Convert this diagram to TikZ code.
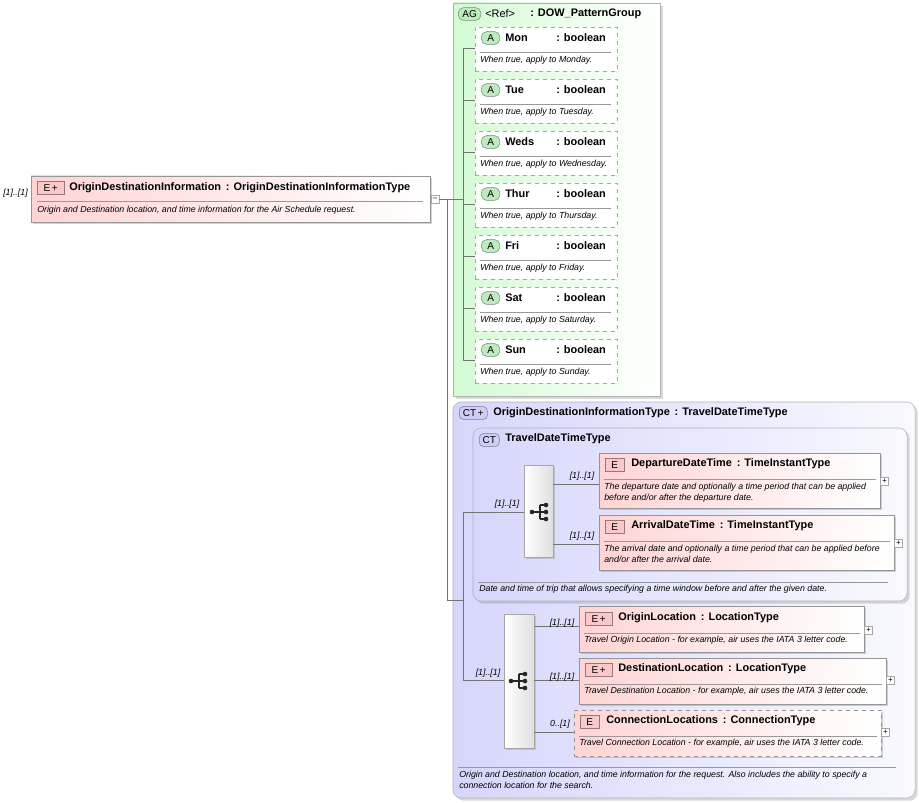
\documentclass[tikz,border=0pt]{standalone}
\usepackage{fontspec}
\setmainfont{Liberation Sans}
\usetikzlibrary{fit,shadows}
\definecolor{elpink}{RGB}{255,212,212}
\definecolor{elbord}{RGB}{150,150,150}
\definecolor{agreen}{RGB}{212,250,212}
\definecolor{ctlav}{RGB}{214,214,252}
\definecolor{badgeE}{RGB}{250,200,200}
\definecolor{badgeA}{RGB}{190,235,190}
\definecolor{badgeC}{RGB}{205,205,245}
\tikzset{
  x=0.75pt,y=-0.75pt,
  elem/.style={draw=elbord,left color=elpink,right color=white,inner sep=0,drop shadow={shadow xshift=1.5pt,shadow yshift=-1.5pt,opacity=0.35}},
  attr/.style={draw=gray!70,dashed,fill=white,inner sep=0},
  agrp/.style={draw=gray!60,left color=agreen,right color=white,inner sep=0,drop shadow={shadow xshift=2pt,shadow yshift=-2pt,opacity=0.3}},
  ctgrp/.style={draw=gray!60,rounded corners=6pt,left color=ctlav,right color=white!85!ctlav,inner sep=0,drop shadow={shadow xshift=2pt,shadow yshift=-2pt,opacity=0.3}},
  seqbox/.style={draw=gray!70,left color=white,right color=gray!25,inner sep=0,drop shadow={shadow xshift=1.5pt,shadow yshift=-1.5pt,opacity=0.3}},
  hdr/.style={anchor=west,font=\bfseries\fontsize{8.2}{9}\selectfont,inner sep=0},
  dsc/.style={anchor=north west,font=\itshape\fontsize{6.6}{8}\selectfont,inner sep=0,align=left},
  mult/.style={font=\itshape\fontsize{6.6}{7}\selectfont,inner sep=0},
  bdg/.style={anchor=west,draw=#1!60!black,fill=#1,font=\fontsize{7.5}{8}\selectfont,inner sep=0,minimum height=9.5pt},
  sep/.style={draw=gray!80},
  conn/.style={draw=gray!90!black,line width=0.5pt},
  plusbox/.style={draw=gray!70,fill=white,inner sep=0,minimum size=6pt,font=\fontsize{6}{6}\selectfont},
}
\newcommand{\bx}[6]{\node[#2,fit={(#3,#4)(#5,#6)}] (#1) {};}
\newcommand{\seqicon}[2]{%
  \fill[gray!30!black] (#1-8,#2) circle (2.3);
  \draw[gray!30!black,line width=0.8pt] (#1-8,#2)--(#1,#2) (#1,#2-7)--(#1,#2+7) (#1,#2-7)--(#1+6,#2-7) (#1,#2+7)--(#1+6,#2+7) (#1,#2)--(#1+6,#2);
  \fill[gray!30!black] (#1+6,#2-7) circle (2.3) (#1+6,#2) circle (2.3) (#1+6,#2+7) circle (2.3);}
\begin{document}
\begin{tikzpicture}
\useasboundingbox (0,0) rectangle (919,802);
% main element
\bx{main}{elem}{31}{176}{430}{222}
\node[bdg={badgeE},minimum width=20pt] (mb) at (37,188) {E\,+};
\node[hdr] (mt) at (69,188) {OriginDestinationInformation\, : OriginDestinationInformationType};
\draw[sep] (37,201)--(423,201);
\node[dsc] (md) at (37,206) {Origin and Destination location, and time information for the Air Schedule request.};
\node[mult,anchor=west] (mm) at (3,193) {[1]..[1]};
\node[plusbox] (mminus) at (435,199) {--};
% AG group
\bx{ag}{agrp}{453}{3}{660}{396}
\node[bdg={badgeA},rounded corners=4pt,minimum width=17pt] (agb) at (458,14) {AG};
\node[hdr,font=\fontsize{8.2}{9}\selectfont] (agt1) at (485,14) {<Ref>};
\node[hdr] (agt2) at (530,14) {: DOW\_PatternGroup};
\draw[conn] (mminus.east)--(463,199);
\draw[conn] (463,48)--(463,360);
\foreach \n/\t/\d [count=\i from 0] in {Mon/Mon/Monday,Tue/Tue/Tuesday,Weds/Weds/Wednesday,Thur/Thur/Thursday,Fri/Fri/Friday,Sat/Sat/Saturday,Sun/Sun/Sunday}{
  \pgfmathsetmacro{\yy}{27+52*\i}
  \bx{a\n}{attr}{475}{\yy}{617}{\yy+44}
  \node[bdg={badgeA},rounded corners=4pt,minimum width=14pt] (ab\n) at (481,\yy+11) {A};
  \node[hdr] (at\n) at (505,\yy+11) {\t};
  \node[hdr] (ay\n) at (556,\yy+11) {: boolean};
  \draw[sep] (480,\yy+25)--(611,\yy+25);
  \node[dsc] (ad\n) at (480,\yy+29) {When true, apply to \d.};
  \draw[conn] (463,\yy+21)--(a\n.west|-0,\yy+21);
}
% CT group
\bx{ct}{ctgrp}{453}{402}{915}{798}
\node[bdg={badgeC},rounded corners=3pt,minimum width=21pt] (ctb) at (459,413) {CT\,+};
\node[hdr] (ctt) at (493,413) {OriginDestinationInformationType\, : TravelDateTimeType};
\draw[conn] (447,199)--(447,600)--(463,600);
\bx{ct2}{ctgrp}{473}{428}{907}{601}
\node[bdg={badgeC},rounded corners=3pt,minimum width=15pt] (ct2b) at (479,440) {CT};
\node[hdr] (ct2t) at (505,439) {TravelDateTimeType};
\draw[sep] (478,582)--(888,582);
\node[dsc] (ct2d) at (479,585) {Date and time of trip that allows specifying a time window before and after the given date.};
% seq1
\bx{s1}{seqbox}{524}{465}{553}{557}
\seqicon{540}{512}
\draw[conn] (463,512)--(s1.west|-0,512);
\node[mult,anchor=south] at (507,509) {[1]..[1]};
\draw[conn] (463,512)--(463,680);
% departure
\bx{dep}{elem}{599}{453}{880}{508}
\node[bdg={badgeE},minimum width=14pt] (depb) at (605,465) {E};
\node[hdr] (dept) at (631,464) {DepartureDateTime\, : TimeInstantType};
\draw[sep] (604,479)--(876,479);
\node[dsc] (depd) at (604,483) {The departure date and optionally a time period that can be applied\\before and/or after the departure date.};
\node[plusbox] at (884.5,481) {+};
\draw[conn] (s1.east|-0,484)--(dep.west|-0,484);
\node[mult,anchor=south] at (582,481) {[1]..[1]};
% arrival
\bx{arr}{elem}{599}{515}{894}{570}
\node[bdg={badgeE},minimum width=14pt] (arrb) at (605,527) {E};
\node[hdr] (arrt) at (631,526) {ArrivalDateTime\, : TimeInstantType};
\draw[sep] (604,541)--(890,541);
\node[dsc] (arrd) at (604,545) {The arrival date and optionally a time period that can be applied before\\and/or after the arrival date.};
\node[plusbox] at (898.5,543) {+};
\draw[conn] (s1.east|-0,544)--(arr.west|-0,544);
\node[mult,anchor=south] at (582,541) {[1]..[1]};
% seq2
\bx{s2}{seqbox}{504}{614}{534}{748}
\seqicon{519}{681}
\draw[conn] (463,680)--(s2.west|-0,680);
\node[mult,anchor=south] at (488,678) {[1]..[1]};
% origin
\bx{ori}{elem}{579}{606}{864}{652}
\node[bdg={badgeE},minimum width=20pt] (orib) at (585,619) {E\,+};
\node[hdr] (orit) at (618,618) {OriginLocation\, : LocationType};
\draw[sep] (584,633)--(860,633);
\node[dsc] (orid) at (584,636) {Travel Origin Location - for example, air uses the IATA 3 letter code.};
\node[plusbox] at (868.5,630) {+};
\draw[conn] (s2.east|-0,626)--(ori.west|-0,626);
\node[mult,anchor=south] at (562,628) {[1]..[1]};
% destination
\bx{des}{elem}{579}{658}{886}{704}
\node[bdg={badgeE},minimum width=20pt] (desb) at (585,670) {E\,+};
\node[hdr] (dest) at (618,669) {DestinationLocation\, : LocationType};
\draw[sep] (584,684)--(882,684);
\node[dsc] (desd) at (584,687) {Travel Destination Location - for example, air uses the IATA 3 letter code.};
\node[plusbox] at (890.5,680) {+};
\draw[conn] (s2.east|-0,680)--(des.west|-0,680);
\node[mult,anchor=south] at (562,682) {[1]..[1]};
% connection
\bx{con}{elem,dashed}{574}{710}{881}{756}
\node[bdg={badgeE},minimum width=14pt] (conb) at (580,722) {E};
\node[hdr] (cont) at (606,721) {ConnectionLocations\, : ConnectionType};
\draw[sep] (579,736)--(877,736);
\node[dsc] (cond) at (579,739) {Travel Connection Location - for example, air uses the IATA 3 letter code.};
\node[plusbox] at (885.5,732) {+};
\draw[conn] (s2.east|-0,732)--(con.west|-0,732);
\node[mult,anchor=south] at (560,729) {0..[1]};
% ct desc
\draw[sep] (458,767)--(896,767);
\node[dsc] (ctd) at (459,771) {Origin and Destination location, and time information for the request. Also includes the ability to specify a\\connection location for the search.};
\end{tikzpicture}
\end{document}
